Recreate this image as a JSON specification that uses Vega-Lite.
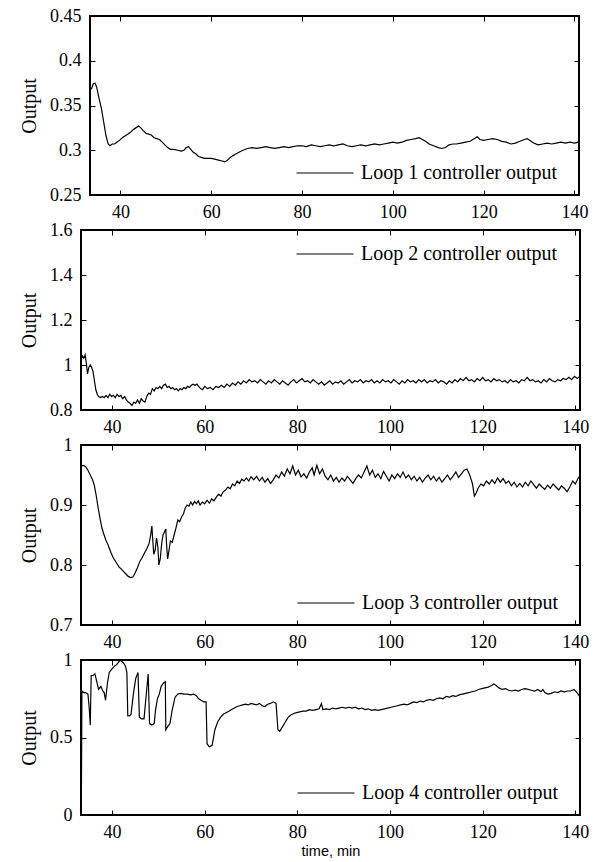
{
"$schema": "https://vega.github.io/schema/vega-lite/v6.json",
"padding": {"left": 11, "top": 6, "right": 18, "bottom": 0},
"background": "white",
"datasets": {
"spacer": [{"d": 0}],
"loop1": [
{"t":33.6,"v":0.368},{"t":34.0,"v":0.374},{"t":34.4,"v":0.375},{"t":34.8,"v":0.370},{"t":35.2,"v":0.360},{"t":35.8,"v":0.347},{"t":36.3,"v":0.332},{"t":36.8,"v":0.317},{"t":37.3,"v":0.307},{"t":37.7,"v":0.305},{"t":38.2,"v":0.307},{"t":38.7,"v":0.307},{"t":39.2,"v":0.309},{"t":39.8,"v":0.311},{"t":40.4,"v":0.314},{"t":41.0,"v":0.316},{"t":41.6,"v":0.318},{"t":42.2,"v":0.320},{"t":42.8,"v":0.323},{"t":43.4,"v":0.325},{"t":44.0,"v":0.327},{"t":44.5,"v":0.325},{"t":45.0,"v":0.322},{"t":45.6,"v":0.319},{"t":46.2,"v":0.318},{"t":46.8,"v":0.317},{"t":47.4,"v":0.314},{"t":48.0,"v":0.313},{"t":48.6,"v":0.312},{"t":49.2,"v":0.309},{"t":49.8,"v":0.306},{"t":50.4,"v":0.303},{"t":51.0,"v":0.301},{"t":51.8,"v":0.301},{"t":52.6,"v":0.300},{"t":53.4,"v":0.299},{"t":54.0,"v":0.300},{"t":54.5,"v":0.303},{"t":55.0,"v":0.304},{"t":55.5,"v":0.301},{"t":56.0,"v":0.298},{"t":56.6,"v":0.296},{"t":57.2,"v":0.293},{"t":57.8,"v":0.292},{"t":58.5,"v":0.291},{"t":59.2,"v":0.291},{"t":60.0,"v":0.291},{"t":60.8,"v":0.290},{"t":61.6,"v":0.289},{"t":62.4,"v":0.288},{"t":63.0,"v":0.287},{"t":63.6,"v":0.289},{"t":64.2,"v":0.292},{"t":64.8,"v":0.294},{"t":65.5,"v":0.296},{"t":66.2,"v":0.298},{"t":67.0,"v":0.300},{"t":68.0,"v":0.302},{"t":69.0,"v":0.303},{"t":70.0,"v":0.302},{"t":71.0,"v":0.303},{"t":72.0,"v":0.304},{"t":73.0,"v":0.303},{"t":74.0,"v":0.302},{"t":75.0,"v":0.303},{"t":76.0,"v":0.304},{"t":77.0,"v":0.303},{"t":78.0,"v":0.304},{"t":79.0,"v":0.305},{"t":80.0,"v":0.305},{"t":81.0,"v":0.304},{"t":82.0,"v":0.306},{"t":83.0,"v":0.305},{"t":84.0,"v":0.304},{"t":85.0,"v":0.305},{"t":86.0,"v":0.306},{"t":87.0,"v":0.305},{"t":88.0,"v":0.306},{"t":89.0,"v":0.307},{"t":90.0,"v":0.305},{"t":91.0,"v":0.304},{"t":92.0,"v":0.305},{"t":93.0,"v":0.306},{"t":94.0,"v":0.305},{"t":95.0,"v":0.306},{"t":96.0,"v":0.307},{"t":97.0,"v":0.306},{"t":98.0,"v":0.307},{"t":99.0,"v":0.308},{"t":100.0,"v":0.309},{"t":101.0,"v":0.308},{"t":102.0,"v":0.309},{"t":103.0,"v":0.311},{"t":104.0,"v":0.312},{"t":105.0,"v":0.313},{"t":105.8,"v":0.314},{"t":106.5,"v":0.312},{"t":107.2,"v":0.310},{"t":108.0,"v":0.307},{"t":109.0,"v":0.305},{"t":110.0,"v":0.303},{"t":110.8,"v":0.302},{"t":111.6,"v":0.303},{"t":112.4,"v":0.306},{"t":113.2,"v":0.307},{"t":114.0,"v":0.307},{"t":115.0,"v":0.308},{"t":116.0,"v":0.309},{"t":117.0,"v":0.310},{"t":118.0,"v":0.313},{"t":118.6,"v":0.315},{"t":119.2,"v":0.312},{"t":120.0,"v":0.311},{"t":121.0,"v":0.312},{"t":122.0,"v":0.313},{"t":123.0,"v":0.312},{"t":124.0,"v":0.310},{"t":125.0,"v":0.309},{"t":126.0,"v":0.307},{"t":127.0,"v":0.308},{"t":128.0,"v":0.310},{"t":129.0,"v":0.312},{"t":129.6,"v":0.313},{"t":130.2,"v":0.311},{"t":131.0,"v":0.308},{"t":132.0,"v":0.306},{"t":133.0,"v":0.307},{"t":134.0,"v":0.308},{"t":135.0,"v":0.307},{"t":136.0,"v":0.308},{"t":137.0,"v":0.309},{"t":138.0,"v":0.308},{"t":139.0,"v":0.309},{"t":140.0,"v":0.308},{"t":141.0,"v":0.309}
],
"loop2": [
{"t":33.3,"v":1.03},{"t":33.6,"v":1.04},{"t":33.9,"v":1.03},{"t":34.2,"v":1.045},{"t":34.5,"v":1.0},{"t":34.7,"v":0.96},{"t":35.0,"v":0.99},{"t":35.3,"v":1.0},{"t":35.6,"v":0.99},{"t":35.9,"v":0.97},{"t":36.2,"v":0.93},{"t":36.5,"v":0.89},{"t":36.8,"v":0.87},{"t":37.1,"v":0.86},{"t":37.5,"v":0.855},{"t":37.9,"v":0.86},{"t":38.3,"v":0.855},{"t":38.7,"v":0.865},{"t":39.1,"v":0.855},{"t":39.5,"v":0.87},{"t":39.9,"v":0.86},{"t":40.3,"v":0.865},{"t":40.7,"v":0.855},{"t":41.1,"v":0.87},{"t":41.5,"v":0.86},{"t":41.9,"v":0.865},{"t":42.3,"v":0.85},{"t":42.7,"v":0.86},{"t":43.1,"v":0.845},{"t":43.5,"v":0.835},{"t":43.9,"v":0.83},{"t":44.3,"v":0.82},{"t":44.7,"v":0.835},{"t":45.1,"v":0.83},{"t":45.5,"v":0.845},{"t":45.9,"v":0.83},{"t":46.3,"v":0.85},{"t":46.7,"v":0.84},{"t":47.1,"v":0.835},{"t":47.5,"v":0.86},{"t":47.9,"v":0.875},{"t":48.3,"v":0.87},{"t":48.7,"v":0.895},{"t":49.1,"v":0.885},{"t":49.5,"v":0.9},{"t":49.9,"v":0.895},{"t":50.3,"v":0.905},{"t":50.7,"v":0.895},{"t":51.1,"v":0.91},{"t":51.5,"v":0.915},{"t":51.9,"v":0.9},{"t":52.3,"v":0.905},{"t":52.7,"v":0.895},{"t":53.1,"v":0.9},{"t":53.5,"v":0.89},{"t":53.9,"v":0.895},{"t":54.3,"v":0.885},{"t":54.7,"v":0.895},{"t":55.1,"v":0.89},{"t":55.5,"v":0.9},{"t":55.9,"v":0.895},{"t":56.3,"v":0.905},{"t":56.7,"v":0.9},{"t":57.1,"v":0.91},{"t":57.5,"v":0.915},{"t":57.9,"v":0.91},{"t":58.3,"v":0.915},{"t":58.7,"v":0.905},{"t":59.1,"v":0.895},{"t":59.5,"v":0.89},{"t":60.0,"v":0.905},{"t":60.6,"v":0.895},{"t":61.2,"v":0.9},{"t":61.8,"v":0.89},{"t":62.4,"v":0.905},{"t":63.0,"v":0.9},{"t":63.6,"v":0.91},{"t":64.2,"v":0.9},{"t":64.8,"v":0.915},{"t":65.4,"v":0.905},{"t":66.0,"v":0.92},{"t":66.6,"v":0.91},{"t":67.2,"v":0.925},{"t":67.8,"v":0.915},{"t":68.4,"v":0.93},{"t":69.0,"v":0.92},{"t":69.6,"v":0.935},{"t":70.2,"v":0.925},{"t":70.8,"v":0.93},{"t":71.4,"v":0.92},{"t":72.0,"v":0.935},{"t":72.6,"v":0.925},{"t":73.2,"v":0.915},{"t":73.8,"v":0.93},{"t":74.4,"v":0.92},{"t":75.0,"v":0.935},{"t":75.6,"v":0.925},{"t":76.2,"v":0.915},{"t":76.8,"v":0.93},{"t":77.4,"v":0.92},{"t":78.0,"v":0.91},{"t":78.6,"v":0.925},{"t":79.2,"v":0.935},{"t":79.8,"v":0.92},{"t":80.4,"v":0.93},{"t":81.0,"v":0.94},{"t":81.6,"v":0.925},{"t":82.2,"v":0.93},{"t":82.8,"v":0.92},{"t":83.4,"v":0.935},{"t":84.0,"v":0.925},{"t":84.6,"v":0.915},{"t":85.2,"v":0.925},{"t":85.8,"v":0.91},{"t":86.4,"v":0.92},{"t":87.0,"v":0.93},{"t":87.6,"v":0.915},{"t":88.2,"v":0.925},{"t":88.8,"v":0.92},{"t":89.4,"v":0.93},{"t":90.0,"v":0.915},{"t":90.6,"v":0.925},{"t":91.2,"v":0.935},{"t":91.8,"v":0.92},{"t":92.4,"v":0.93},{"t":93.0,"v":0.925},{"t":93.6,"v":0.935},{"t":94.2,"v":0.92},{"t":94.8,"v":0.93},{"t":95.4,"v":0.925},{"t":96.0,"v":0.935},{"t":96.6,"v":0.92},{"t":97.2,"v":0.93},{"t":97.8,"v":0.92},{"t":98.4,"v":0.935},{"t":99.0,"v":0.925},{"t":99.6,"v":0.93},{"t":100.2,"v":0.92},{"t":100.8,"v":0.935},{"t":101.4,"v":0.925},{"t":102.0,"v":0.915},{"t":102.6,"v":0.93},{"t":103.2,"v":0.92},{"t":103.8,"v":0.935},{"t":104.4,"v":0.925},{"t":105.0,"v":0.93},{"t":105.6,"v":0.92},{"t":106.2,"v":0.935},{"t":106.8,"v":0.925},{"t":107.4,"v":0.935},{"t":108.0,"v":0.92},{"t":108.6,"v":0.93},{"t":109.2,"v":0.925},{"t":109.8,"v":0.935},{"t":110.4,"v":0.92},{"t":111.0,"v":0.93},{"t":111.6,"v":0.925},{"t":112.2,"v":0.915},{"t":112.8,"v":0.93},{"t":113.4,"v":0.92},{"t":114.0,"v":0.935},{"t":114.6,"v":0.925},{"t":115.2,"v":0.94},{"t":115.8,"v":0.93},{"t":116.4,"v":0.945},{"t":117.0,"v":0.93},{"t":117.6,"v":0.935},{"t":118.2,"v":0.925},{"t":118.8,"v":0.94},{"t":119.4,"v":0.93},{"t":120.0,"v":0.945},{"t":120.6,"v":0.93},{"t":121.2,"v":0.935},{"t":121.8,"v":0.925},{"t":122.4,"v":0.94},{"t":123.0,"v":0.93},{"t":123.6,"v":0.935},{"t":124.2,"v":0.925},{"t":124.8,"v":0.93},{"t":125.4,"v":0.92},{"t":126.0,"v":0.935},{"t":126.6,"v":0.925},{"t":127.2,"v":0.93},{"t":127.8,"v":0.92},{"t":128.4,"v":0.935},{"t":129.0,"v":0.93},{"t":129.6,"v":0.945},{"t":130.2,"v":0.93},{"t":130.8,"v":0.935},{"t":131.4,"v":0.925},{"t":132.0,"v":0.93},{"t":132.6,"v":0.92},{"t":133.2,"v":0.935},{"t":133.8,"v":0.925},{"t":134.4,"v":0.94},{"t":135.0,"v":0.93},{"t":135.6,"v":0.925},{"t":136.2,"v":0.935},{"t":136.8,"v":0.93},{"t":137.4,"v":0.94},{"t":138.0,"v":0.935},{"t":138.6,"v":0.945},{"t":139.2,"v":0.935},{"t":139.8,"v":0.95},{"t":140.4,"v":0.94},{"t":141.0,"v":0.95}
],
"loop3": [
{"t":33.3,"v":0.965},{"t":33.8,"v":0.966},{"t":34.3,"v":0.964},{"t":34.8,"v":0.958},{"t":35.3,"v":0.95},{"t":35.8,"v":0.942},{"t":36.2,"v":0.932},{"t":36.6,"v":0.915},{"t":37.0,"v":0.895},{"t":37.4,"v":0.878},{"t":37.8,"v":0.862},{"t":38.2,"v":0.852},{"t":38.6,"v":0.843},{"t":39.0,"v":0.836},{"t":39.4,"v":0.828},{"t":39.8,"v":0.82},{"t":40.2,"v":0.813},{"t":40.6,"v":0.808},{"t":41.0,"v":0.803},{"t":41.5,"v":0.797},{"t":42.0,"v":0.793},{"t":42.5,"v":0.789},{"t":43.0,"v":0.785},{"t":43.5,"v":0.781},{"t":44.0,"v":0.779},{"t":44.5,"v":0.78},{"t":45.0,"v":0.787},{"t":45.5,"v":0.796},{"t":46.0,"v":0.806},{"t":46.5,"v":0.812},{"t":47.0,"v":0.82},{"t":47.5,"v":0.827},{"t":48.0,"v":0.836},{"t":48.3,"v":0.848},{"t":48.6,"v":0.865},{"t":48.8,"v":0.84},{"t":49.0,"v":0.818},{"t":49.3,"v":0.825},{"t":49.6,"v":0.845},{"t":49.9,"v":0.83},{"t":50.1,"v":0.8},{"t":50.4,"v":0.81},{"t":50.7,"v":0.835},{"t":51.0,"v":0.85},{"t":51.3,"v":0.855},{"t":51.6,"v":0.86},{"t":51.8,"v":0.83},{"t":52.0,"v":0.81},{"t":52.3,"v":0.825},{"t":52.6,"v":0.84},{"t":53.0,"v":0.838},{"t":53.4,"v":0.85},{"t":53.8,"v":0.862},{"t":54.2,"v":0.875},{"t":54.6,"v":0.872},{"t":55.0,"v":0.88},{"t":55.4,"v":0.885},{"t":55.8,"v":0.895},{"t":56.2,"v":0.9},{"t":56.6,"v":0.898},{"t":57.0,"v":0.905},{"t":57.4,"v":0.9},{"t":57.8,"v":0.906},{"t":58.2,"v":0.902},{"t":58.6,"v":0.907},{"t":59.0,"v":0.9},{"t":59.5,"v":0.905},{"t":60.0,"v":0.902},{"t":60.5,"v":0.908},{"t":61.0,"v":0.903},{"t":61.5,"v":0.91},{"t":62.0,"v":0.907},{"t":62.5,"v":0.913},{"t":63.0,"v":0.918},{"t":63.5,"v":0.915},{"t":64.0,"v":0.922},{"t":64.5,"v":0.925},{"t":65.0,"v":0.93},{"t":65.5,"v":0.927},{"t":66.0,"v":0.935},{"t":66.5,"v":0.932},{"t":67.0,"v":0.94},{"t":67.5,"v":0.936},{"t":68.0,"v":0.943},{"t":68.5,"v":0.94},{"t":69.0,"v":0.945},{"t":69.5,"v":0.94},{"t":70.0,"v":0.947},{"t":70.6,"v":0.942},{"t":71.2,"v":0.948},{"t":71.8,"v":0.94},{"t":72.4,"v":0.946},{"t":73.0,"v":0.938},{"t":73.6,"v":0.944},{"t":74.2,"v":0.936},{"t":74.8,"v":0.942},{"t":75.4,"v":0.95},{"t":76.0,"v":0.945},{"t":76.6,"v":0.955},{"t":77.2,"v":0.948},{"t":77.8,"v":0.96},{"t":78.4,"v":0.952},{"t":79.0,"v":0.965},{"t":79.6,"v":0.95},{"t":80.2,"v":0.958},{"t":80.8,"v":0.947},{"t":81.4,"v":0.952},{"t":82.0,"v":0.945},{"t":82.6,"v":0.955},{"t":83.2,"v":0.962},{"t":83.6,"v":0.95},{"t":84.2,"v":0.966},{"t":84.8,"v":0.952},{"t":85.4,"v":0.96},{"t":86.0,"v":0.948},{"t":86.6,"v":0.942},{"t":87.2,"v":0.95},{"t":87.8,"v":0.94},{"t":88.4,"v":0.946},{"t":89.0,"v":0.938},{"t":89.6,"v":0.945},{"t":90.2,"v":0.94},{"t":90.8,"v":0.948},{"t":91.4,"v":0.942},{"t":92.0,"v":0.936},{"t":92.6,"v":0.944},{"t":93.2,"v":0.95},{"t":93.8,"v":0.945},{"t":94.4,"v":0.955},{"t":95.0,"v":0.965},{"t":95.6,"v":0.95},{"t":96.2,"v":0.958},{"t":96.8,"v":0.946},{"t":97.4,"v":0.952},{"t":98.0,"v":0.944},{"t":98.6,"v":0.956},{"t":99.2,"v":0.948},{"t":99.8,"v":0.94},{"t":100.4,"v":0.95},{"t":101.0,"v":0.944},{"t":101.6,"v":0.952},{"t":102.2,"v":0.946},{"t":102.8,"v":0.955},{"t":103.4,"v":0.945},{"t":104.0,"v":0.95},{"t":104.6,"v":0.942},{"t":105.2,"v":0.948},{"t":105.8,"v":0.94},{"t":106.4,"v":0.946},{"t":107.0,"v":0.938},{"t":107.6,"v":0.945},{"t":108.2,"v":0.95},{"t":108.8,"v":0.942},{"t":109.4,"v":0.948},{"t":110.0,"v":0.94},{"t":110.6,"v":0.946},{"t":111.2,"v":0.938},{"t":111.8,"v":0.944},{"t":112.4,"v":0.95},{"t":113.0,"v":0.942},{"t":113.6,"v":0.948},{"t":114.2,"v":0.955},{"t":114.8,"v":0.946},{"t":115.4,"v":0.952},{"t":116.0,"v":0.958},{"t":116.6,"v":0.96},{"t":117.2,"v":0.95},{"t":117.8,"v":0.935},{"t":118.2,"v":0.915},{"t":118.6,"v":0.92},{"t":119.0,"v":0.928},{"t":119.6,"v":0.935},{"t":120.2,"v":0.932},{"t":120.8,"v":0.94},{"t":121.4,"v":0.935},{"t":122.0,"v":0.942},{"t":122.6,"v":0.936},{"t":123.2,"v":0.945},{"t":123.8,"v":0.938},{"t":124.4,"v":0.944},{"t":125.0,"v":0.936},{"t":125.6,"v":0.94},{"t":126.2,"v":0.932},{"t":126.8,"v":0.938},{"t":127.4,"v":0.93},{"t":128.0,"v":0.936},{"t":128.6,"v":0.93},{"t":129.2,"v":0.938},{"t":129.8,"v":0.932},{"t":130.4,"v":0.94},{"t":131.0,"v":0.934},{"t":131.6,"v":0.928},{"t":132.2,"v":0.935},{"t":132.8,"v":0.93},{"t":133.4,"v":0.926},{"t":134.0,"v":0.933},{"t":134.6,"v":0.928},{"t":135.2,"v":0.935},{"t":135.8,"v":0.93},{"t":136.4,"v":0.925},{"t":137.0,"v":0.932},{"t":137.6,"v":0.928},{"t":138.2,"v":0.922},{"t":138.8,"v":0.93},{"t":139.4,"v":0.94},{"t":140.0,"v":0.935},{"t":140.6,"v":0.945},{"t":141.0,"v":0.948}
],
"loop4": [
{"t":33.4,"v":0.2},{"t":33.5,"v":0.8},{"t":33.9,"v":0.79},{"t":34.3,"v":0.79},{"t":34.8,"v":0.78},{"t":35.1,"v":0.68},{"t":35.3,"v":0.58},{"t":35.5,"v":0.9},{"t":35.9,"v":0.9},{"t":36.3,"v":0.91},{"t":36.7,"v":0.86},{"t":37.1,"v":0.81},{"t":37.6,"v":0.83},{"t":38.0,"v":0.8},{"t":38.3,"v":0.79},{"t":38.6,"v":0.74},{"t":39.0,"v":0.85},{"t":39.4,"v":0.92},{"t":39.9,"v":0.94},{"t":40.5,"v":0.96},{"t":41.0,"v":0.97},{"t":41.5,"v":0.99},{"t":41.8,"v":1.0},{"t":42.1,"v":0.99},{"t":42.5,"v":0.98},{"t":42.9,"v":0.96},{"t":43.2,"v":0.92},{"t":43.4,"v":0.64},{"t":43.8,"v":0.64},{"t":44.1,"v":0.65},{"t":44.6,"v":0.78},{"t":45.1,"v":0.88},{"t":45.6,"v":0.92},{"t":45.9,"v":0.63},{"t":46.4,"v":0.62},{"t":46.9,"v":0.62},{"t":47.3,"v":0.75},{"t":47.8,"v":0.91},{"t":48.1,"v":0.59},{"t":48.6,"v":0.58},{"t":49.1,"v":0.59},{"t":49.4,"v":0.68},{"t":49.8,"v":0.75},{"t":50.2,"v":0.78},{"t":50.6,"v":0.83},{"t":51.1,"v":0.85},{"t":51.5,"v":0.86},{"t":51.6,"v":0.55},{"t":52.0,"v":0.57},{"t":52.5,"v":0.59},{"t":53.0,"v":0.68},{"t":53.6,"v":0.76},{"t":54.2,"v":0.78},{"t":54.8,"v":0.785},{"t":55.5,"v":0.78},{"t":56.2,"v":0.78},{"t":57.0,"v":0.775},{"t":57.6,"v":0.78},{"t":58.2,"v":0.77},{"t":58.7,"v":0.75},{"t":59.2,"v":0.74},{"t":59.8,"v":0.73},{"t":60.3,"v":0.73},{"t":60.5,"v":0.46},{"t":61.0,"v":0.44},{"t":61.6,"v":0.45},{"t":62.2,"v":0.55},{"t":62.8,"v":0.6},{"t":63.4,"v":0.63},{"t":64.0,"v":0.65},{"t":64.6,"v":0.66},{"t":65.2,"v":0.67},{"t":65.8,"v":0.68},{"t":66.4,"v":0.69},{"t":67.0,"v":0.7},{"t":67.6,"v":0.705},{"t":68.2,"v":0.71},{"t":68.8,"v":0.715},{"t":69.4,"v":0.71},{"t":70.0,"v":0.72},{"t":70.6,"v":0.715},{"t":71.2,"v":0.71},{"t":71.8,"v":0.72},{"t":72.4,"v":0.705},{"t":73.0,"v":0.7},{"t":73.6,"v":0.715},{"t":74.2,"v":0.72},{"t":74.8,"v":0.73},{"t":75.4,"v":0.72},{"t":75.8,"v":0.55},{"t":76.2,"v":0.54},{"t":76.8,"v":0.57},{"t":77.4,"v":0.6},{"t":78.0,"v":0.63},{"t":78.6,"v":0.645},{"t":79.2,"v":0.655},{"t":79.8,"v":0.66},{"t":80.5,"v":0.665},{"t":81.2,"v":0.67},{"t":81.9,"v":0.67},{"t":82.6,"v":0.68},{"t":83.3,"v":0.675},{"t":84.0,"v":0.68},{"t":84.7,"v":0.685},{"t":85.2,"v":0.72},{"t":85.5,"v":0.68},{"t":86.2,"v":0.685},{"t":86.9,"v":0.68},{"t":87.6,"v":0.69},{"t":88.3,"v":0.685},{"t":89.0,"v":0.69},{"t":89.7,"v":0.695},{"t":90.4,"v":0.69},{"t":91.1,"v":0.695},{"t":91.8,"v":0.69},{"t":92.5,"v":0.695},{"t":93.2,"v":0.685},{"t":93.9,"v":0.69},{"t":94.6,"v":0.68},{"t":95.3,"v":0.685},{"t":96.0,"v":0.675},{"t":96.7,"v":0.68},{"t":97.4,"v":0.675},{"t":98.1,"v":0.68},{"t":98.8,"v":0.685},{"t":99.5,"v":0.69},{"t":100.2,"v":0.695},{"t":100.9,"v":0.7},{"t":101.6,"v":0.705},{"t":102.3,"v":0.71},{"t":103.0,"v":0.715},{"t":103.7,"v":0.71},{"t":104.4,"v":0.72},{"t":105.1,"v":0.73},{"t":105.8,"v":0.725},{"t":106.5,"v":0.735},{"t":107.2,"v":0.73},{"t":107.9,"v":0.74},{"t":108.6,"v":0.745},{"t":109.3,"v":0.74},{"t":110.0,"v":0.75},{"t":110.7,"v":0.755},{"t":111.4,"v":0.75},{"t":112.1,"v":0.765},{"t":112.8,"v":0.76},{"t":113.5,"v":0.77},{"t":114.2,"v":0.765},{"t":114.9,"v":0.775},{"t":115.6,"v":0.78},{"t":116.3,"v":0.785},{"t":117.0,"v":0.79},{"t":117.7,"v":0.795},{"t":118.4,"v":0.8},{"t":119.1,"v":0.81},{"t":119.8,"v":0.815},{"t":120.5,"v":0.82},{"t":121.2,"v":0.825},{"t":121.9,"v":0.835},{"t":122.4,"v":0.845},{"t":122.9,"v":0.835},{"t":123.5,"v":0.82},{"t":124.2,"v":0.81},{"t":124.9,"v":0.815},{"t":125.6,"v":0.805},{"t":126.3,"v":0.8},{"t":127.0,"v":0.805},{"t":127.7,"v":0.8},{"t":128.4,"v":0.81},{"t":129.1,"v":0.815},{"t":129.8,"v":0.81},{"t":130.5,"v":0.805},{"t":131.2,"v":0.8},{"t":131.9,"v":0.81},{"t":132.6,"v":0.795},{"t":133.0,"v":0.81},{"t":133.4,"v":0.79},{"t":134.1,"v":0.78},{"t":134.8,"v":0.785},{"t":135.5,"v":0.795},{"t":136.2,"v":0.79},{"t":136.9,"v":0.8},{"t":137.6,"v":0.795},{"t":138.3,"v":0.8},{"t":139.0,"v":0.8},{"t":139.7,"v":0.81},{"t":140.2,"v":0.795},{"t":140.6,"v":0.78},{"t":141.0,"v":0.76}
]
},
"vconcat": [
{"hconcat": [
{"width": 1, "height": 1, "view": {"stroke": null}, "data": {"name": "spacer"}, "mark": {"type": "point", "opacity": 0}, "encoding": {}},
{
"width": 489, "height": 179,
"data": {"name": "loop1"},
"layer": [
{"mark": {"type": "line", "color": "black", "strokeWidth": 1.2, "clip": true},
"encoding": {
"x": {"field": "t", "type": "quantitative", "scale": {"domain": [33.3, 141], "nice": false, "zero": false}, "axis": {"orient": "bottom", "values": [40,60,80,100,120,140], "title": null}},
"y": {"field": "v", "type": "quantitative", "scale": {"domain": [0.25, 0.45], "nice": false, "zero": false}, "axis": {"orient": "left", "values": [0.25,0.3,0.35,0.4,0.45], "format": "~g", "title": "Output"}},
"color": {"datum": "Loop 1 controller output", "type": "nominal", "scale": {"range": ["black"]}, "legend": {"orient": "bottom-right", "offset": 12, "title": " ", "titleOrient": "right"}}
}},
{"mark": {"type": "line", "opacity": 0},
"encoding": {
"x": {"field": "t", "type": "quantitative", "axis": {"orient": "top", "values": [40,60,80,100,120,140], "labels": false, "title": null}},
"y": {"field": "v", "type": "quantitative", "axis": {"orient": "right", "values": [0.25,0.3,0.35,0.4,0.45], "labels": false, "title": null}}
}}
],
"resolve": {"axis": {"x": "independent", "y": "independent"}}
}
], "spacing": 0, "resolve": {"scale": {"color": "independent"}, "legend": {"color": "independent"}}},
{"hconcat": [
{"width": 1, "height": 1, "view": {"stroke": null}, "data": {"name": "spacer"}, "mark": {"type": "point", "opacity": 0}, "encoding": {}},
{
"width": 499, "height": 180,
"data": {"name": "loop2"},
"layer": [
{"mark": {"type": "line", "color": "black", "strokeWidth": 1.2, "clip": true},
"encoding": {
"x": {"field": "t", "type": "quantitative", "scale": {"domain": [33.3, 141], "nice": false, "zero": false}, "axis": {"orient": "bottom", "values": [40,60,80,100,120,140], "title": null}},
"y": {"field": "v", "type": "quantitative", "scale": {"domain": [0.8, 1.6], "nice": false, "zero": false}, "axis": {"orient": "left", "values": [0.8,1,1.2,1.4,1.6], "format": "~g", "title": "Output"}},
"color": {"datum": "Loop 2 controller output", "type": "nominal", "scale": {"range": ["black"]}, "legend": {"orient": "top-right", "offset": 22, "title": null}}
}},
{"mark": {"type": "line", "opacity": 0},
"encoding": {
"x": {"field": "t", "type": "quantitative", "axis": {"orient": "top", "values": [40,60,80,100,120,140], "labels": false, "title": null}},
"y": {"field": "v", "type": "quantitative", "axis": {"orient": "right", "values": [0.8,1,1.2,1.4,1.6], "labels": false, "title": null}}
}}
],
"resolve": {"axis": {"x": "independent", "y": "independent"}}
}
], "spacing": 0, "resolve": {"scale": {"color": "independent"}, "legend": {"color": "independent"}}},
{"hconcat": [
{"width": 1, "height": 1, "view": {"stroke": null}, "data": {"name": "spacer"}, "mark": {"type": "point", "opacity": 0}, "encoding": {}},
{
"width": 499, "height": 180,
"data": {"name": "loop3"},
"layer": [
{"mark": {"type": "line", "color": "black", "strokeWidth": 1.2, "clip": true},
"encoding": {
"x": {"field": "t", "type": "quantitative", "scale": {"domain": [33.3, 141], "nice": false, "zero": false}, "axis": {"orient": "bottom", "values": [40,60,80,100,120,140], "title": null}},
"y": {"field": "v", "type": "quantitative", "scale": {"domain": [0.7, 1], "nice": false, "zero": false}, "axis": {"orient": "left", "values": [0.7,0.8,0.9,1], "format": "~g", "title": "Output"}},
"color": {"datum": "Loop 3 controller output", "type": "nominal", "scale": {"range": ["black"]}, "legend": {"orient": "bottom-right", "offset": 12, "title": " ", "titleOrient": "right"}}
}},
{"mark": {"type": "line", "opacity": 0},
"encoding": {
"x": {"field": "t", "type": "quantitative", "axis": {"orient": "top", "values": [40,60,80,100,120,140], "labels": false, "title": null}},
"y": {"field": "v", "type": "quantitative", "axis": {"orient": "right", "values": [0.7,0.8,0.9,1], "labels": false, "title": null}}
}}
],
"resolve": {"axis": {"x": "independent", "y": "independent"}}
}
], "spacing": 0, "resolve": {"scale": {"color": "independent"}, "legend": {"color": "independent"}}},
{"hconcat": [
{"width": 1, "height": 1, "view": {"stroke": null}, "data": {"name": "spacer"}, "mark": {"type": "point", "opacity": 0}, "encoding": {}},
{
"width": 499, "height": 155,
"data": {"name": "loop4"},
"layer": [
{"mark": {"type": "line", "color": "black", "strokeWidth": 1.2, "clip": true},
"encoding": {
"x": {"field": "t", "type": "quantitative", "scale": {"domain": [33.3, 141], "nice": false, "zero": false}, "axis": {"orient": "bottom", "values": [40,60,80,100,120,140], "title": "time, min", "titleFont": "Liberation Sans", "titleFontSize": 14.5, "titlePadding": 3}},
"y": {"field": "v", "type": "quantitative", "scale": {"domain": [0, 1], "nice": false, "zero": false}, "axis": {"orient": "left", "values": [0,0.5,1], "format": "~g", "title": "Output"}},
"color": {"datum": "Loop 4 controller output", "type": "nominal", "scale": {"range": ["black"]}, "legend": {"orient": "bottom-right", "offset": 12, "title": " ", "titleOrient": "right"}}
}},
{"mark": {"type": "line", "opacity": 0},
"encoding": {
"x": {"field": "t", "type": "quantitative", "axis": {"orient": "top", "values": [40,60,80,100,120,140], "labels": false, "title": null}},
"y": {"field": "v", "type": "quantitative", "axis": {"orient": "right", "values": [0,0.5,1], "labels": false, "title": null}}
}}
],
"resolve": {"axis": {"x": "independent", "y": "independent"}}
}
], "spacing": 0, "resolve": {"scale": {"color": "independent"}, "legend": {"color": "independent"}}}
],
"spacing": -2,
"resolve": {"scale": {"color": "independent"}, "legend": {"color": "independent"}},
"config": {
"font": "Liberation Serif",
"view": {"stroke": "black", "strokeWidth": 2},
"axis": {"domain": false, "grid": false, "ticks": true, "tickColor": "black", "tickSize": -5, "tickWidth": 1, "labelFont": "Liberation Serif", "labelFontSize": 18, "labelColor": "black", "titleFont": "Liberation Serif", "titleFontSize": 20, "titleFontWeight": "normal", "titleColor": "black", "titlePadding": 10},
"axisX": {"labelPadding": 13},
"axisY": {"labelPadding": 14},
"legend": {"symbolType": "stroke", "symbolSize": 3249, "symbolStrokeWidth": 1, "symbolStrokeColor": "black", "labelFont": "Liberation Serif", "labelFontSize": 20, "labelColor": "black", "labelOffset": 7, "clipHeight": 4, "padding": 0, "labelLimit": 0, "titleFontSize": 4, "titlePadding": 10, "titleColor": "white"}
}
}
